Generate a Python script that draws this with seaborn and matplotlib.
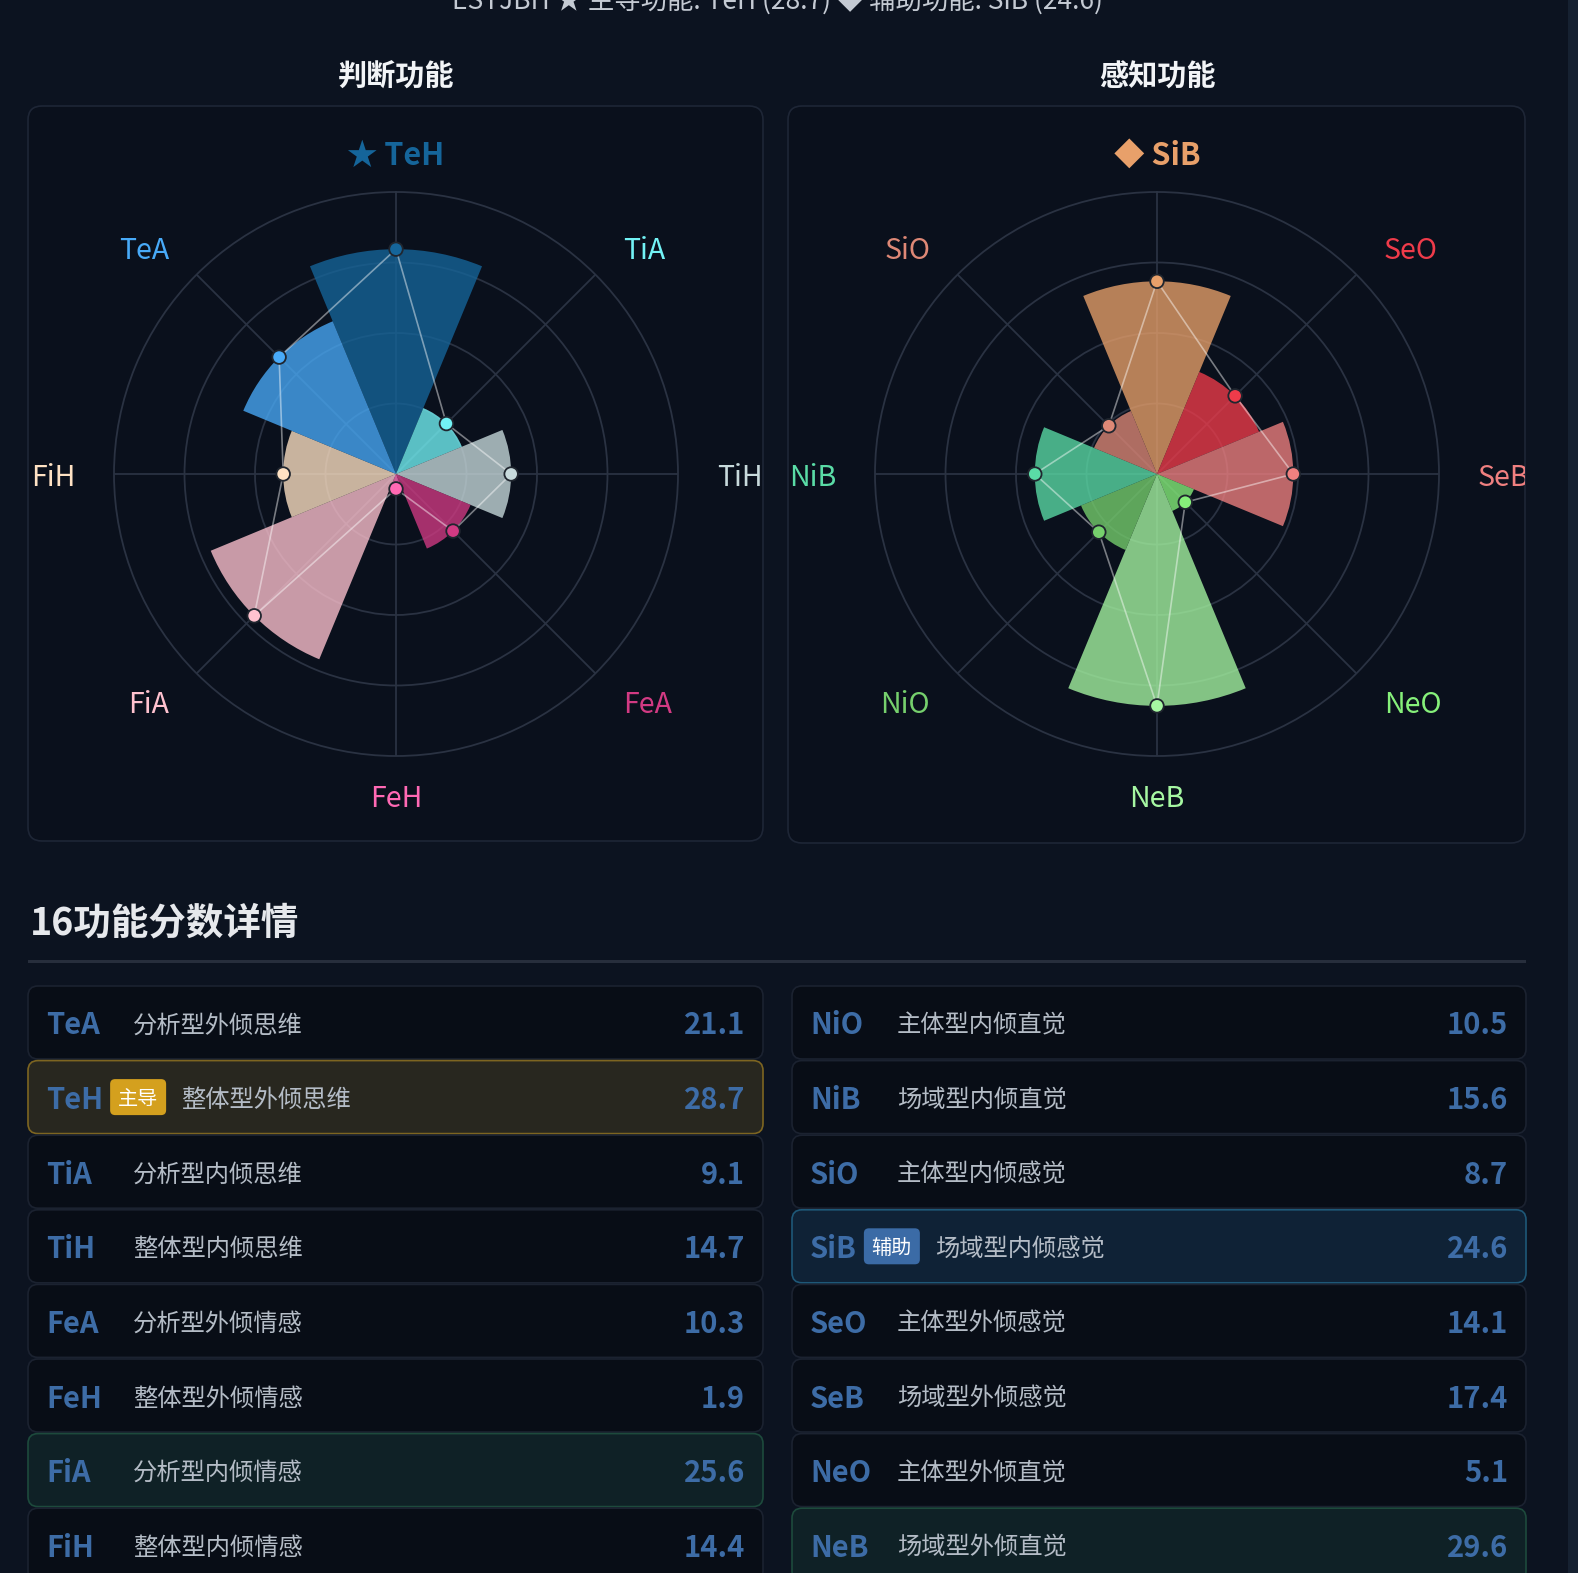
import numpy as np
import pandas as pd
import matplotlib
matplotlib.use("Agg")
import matplotlib.pyplot as plt
import matplotlib.transforms as mtransforms
import seaborn as sns
from matplotlib.patches import FancyBboxPatch, Rectangle

# ---------------- data ----------------
judge_codes = ["TeH", "TiA", "TiH", "FeA", "FeH", "FiA", "FiH", "TeA"]
judge_values = [28.7, 9.1, 14.7, 10.3, 1.9, 25.6, 14.4, 21.1]
judge_colors = ["#15659a", "#72f2f5", "#c8dadc", "#d23a83", "#ff69b4", "#ffc2cf", "#ffe2c4", "#48aaf8"]

perceive_codes = ["SiB", "SeO", "SeB", "NeO", "NeB", "NiO", "NiB", "SiO"]
perceive_values = [24.6, 14.1, 17.4, 5.1, 29.6, 10.5, 15.6, 8.7]
perceive_colors = ["#e8a06a", "#ef3b4a", "#f08080", "#86f07a", "#a6f7a2", "#76d06d", "#5adca6", "#de8876"]

panel_titles = ["判断功能", "感知功能"]
lead_symbols = ["★", "◆"]

page_title = "ESTJBH ★ 主导功能: TeH (28.7) ◆ 辅助功能: SiB (24.6)"
table_title = "16功能分数详情"

left_table_codes = ["TeA", "TeH", "TiA", "TiH", "FeA", "FeH", "FiA", "FiH"]
left_table_desc = ["分析型外倾思维", "整体型外倾思维", "分析型内倾思维", "整体型内倾思维",
                   "分析型外倾情感", "整体型外倾情感", "分析型内倾情感", "整体型内倾情感"]
right_table_codes = ["NiO", "NiB", "SiO", "SiB", "SeO", "SeB", "NeO", "NeB"]
right_table_desc = ["主体型内倾直觉", "场域型内倾直觉", "主体型内倾感觉", "场域型内倾感觉",
                    "主体型外倾感觉", "场域型外倾感觉", "主体型外倾直觉", "场域型外倾直觉"]
dominant_code = "TeH"
auxiliary_code = "SiB"
highlight_codes = ["FiA", "NeB"]
badge_text = {"TeH": "主导", "SiB": "辅助"}

scores = dict(zip(judge_codes + perceive_codes, judge_values + perceive_values))

# ---------------- style ----------------
W, H = 1578, 1573
PAGE = "#0c1320"
PANEL = "#0a101c"
PANEL_EDGE = "#1e2636"
GRID = "#2a3242"

sns.set_theme(style="dark")
plt.rcParams["font.family"] = ["Noto Sans CJK SC", "DejaVu Sans"]
plt.rcParams["axes.unicode_minus"] = False

fig = plt.figure(figsize=(W / 100, H / 100), dpi=100, facecolor=PAGE)
bg = fig.add_axes([0, 0, 1, 1], zorder=0)
bg.set_xlim(0, W)
bg.set_ylim(H, 0)
bg.axis("off")
bg.set_facecolor(PAGE)
renderer = fig.canvas.get_renderer()

# scrollbar strip at the right edge
bg.add_patch(Rectangle((1568, 0), 10, H, facecolor="#162131", edgecolor="none"))

# partial page title (cut at top)
bg.text(777, 10, page_title, ha="center", va="baseline", fontsize=19, color="#c4cad3")

# ---------------- polar panels ----------------
panels = [
    dict(box=(28, 106, 735, 735), center=(396, 474), codes=judge_codes, values=judge_values,
         colors=judge_colors, title=panel_titles[0], sym=lead_symbols[0]),
    dict(box=(788, 106, 737, 737), center=(1157, 474), codes=perceive_codes, values=perceive_values,
         colors=perceive_colors, title=panel_titles[1], sym=lead_symbols[1]),
]
R_PX = 282
RMAX = 36
label_shift = mtransforms.ScaledTranslation(0, -4 / 100, fig.dpi_scale_trans)

for p in panels:
    x0, y0, w, h = p["box"]
    bg.add_patch(FancyBboxPatch((x0, y0), w, h, boxstyle="round,pad=0,rounding_size=14",
                                facecolor=PANEL, edgecolor=PANEL_EDGE, linewidth=1.2))
    clip_rect = Rectangle((x0, y0), w, h, transform=bg.transData)
    cx, cy = p["center"]
    bg.text(cx, 77, p["title"], ha="center", va="center", fontsize=21, fontweight="bold", color="#f2f4f7")

    ax = fig.add_axes([(cx - R_PX) / W, 1 - (cy + R_PX) / H, 2 * R_PX / W, 2 * R_PX / H],
                      projection="polar", zorder=1)
    ax.set_facecolor("none")
    ax.set_theta_zero_location("N")
    ax.set_theta_direction(-1)
    ax.set_axisbelow(True)

    n = len(p["codes"])
    theta = np.deg2rad(np.arange(n) * 360 / n)
    vals = np.array(p["values"])
    ax.bar(theta, vals, width=2 * np.pi / n, color=p["colors"], alpha=0.78, linewidth=0, zorder=2)
    ax.plot(np.append(theta, theta[0]), np.append(vals, vals[0]), color="white", alpha=0.45,
            linewidth=1.2, zorder=3)
    df = pd.DataFrame({"theta": theta, "r": vals, "code": p["codes"]})
    sns.scatterplot(data=df, x="theta", y="r", hue="code", palette=dict(zip(p["codes"], p["colors"])),
                    s=95, edgecolor="#20262f", linewidth=1.3, legend=False, ax=ax, zorder=4)
    ax.set_xlabel("")
    ax.set_ylabel("")
    ax.set_ylim(0, RMAX)
    ax.set_yticks([9, 18, 27])
    ax.set_yticklabels([])
    ax.set_xticks(theta)
    ax.set_xticklabels([])
    ax.grid(True, color=GRID, linewidth=1.3)
    ax.spines["polar"].set_color(GRID)
    ax.spines["polar"].set_linewidth(1.3)

    r_lab = 321 / R_PX * RMAX
    for i, (code, col) in enumerate(zip(p["codes"], p["colors"])):
        if i == 0:
            ax.text(theta[0], 318 / R_PX * RMAX, f"{p['sym']} {code}", ha="center", va="center",
                    fontsize=22, fontweight="bold", color=col)
            continue
        s = np.sin(theta[i])
        ha = "left" if s > 0.1 else ("right" if s < -0.1 else "center")
        t = ax.text(theta[i], r_lab, code, ha=ha, va="center", fontsize=20.5, color=col,
                    clip_on=True, transform=ax.transData + label_shift)
        t.set_clip_path(clip_rect)

# ---------------- table ----------------
bg.text(30, 923, table_title, ha="left", va="center", fontsize=27, fontweight="bold", color="#e6e8ec")
bg.add_patch(Rectangle((28, 960), 1498, 3, facecolor="#272e3c", edgecolor="none"))

CODE_C = "#3d6ca6"
DESC_C = "#b4bcc6"
columns = [
    dict(x0=28, x1=763, codes=left_table_codes, desc=left_table_desc),
    dict(x0=792, x1=1526, codes=right_table_codes, desc=right_table_desc),
]
ROW_TOP, ROW_PITCH, ROW_H = 986, 74.6, 73
TXT_DY = 3
for col in columns:
    for i, (code, desc) in enumerate(zip(col["codes"], col["desc"])):
        top = ROW_TOP + i * ROW_PITCH
        mid = top + ROW_H / 2
        if code == dominant_code:
            fc, ec = "#28271f", "#7d6521"
        elif code == auxiliary_code:
            fc, ec = "#0f2236", "#1e5878"
        elif code in highlight_codes:
            fc, ec = "#0f2126", "#1d4a3c"
        else:
            fc, ec = "#080d16", "#1b2230"
        bg.add_patch(FancyBboxPatch((col["x0"], top), col["x1"] - col["x0"], ROW_H,
                                    boxstyle="round,pad=0,rounding_size=10",
                                    facecolor=fc, edgecolor=ec, linewidth=1.2))
        ct = bg.text(col["x0"] + 18, mid + TXT_DY, code, ha="left", va="center", fontsize=21,
                     fontweight="bold", color=CODE_C)
        desc_x = col["x0"] + 105
        if code in badge_text:
            bb = ct.get_window_extent(renderer)
            code_right = bg.transData.inverted().transform((bb.x1, bb.y0))[0]
            bx = code_right + 7
            bcol = "#d4a01e" if code == dominant_code else "#3b6ba6"
            bg.add_patch(FancyBboxPatch((bx, mid - 18), 56, 36, boxstyle="round,pad=0,rounding_size=5",
                                        facecolor=bcol, edgecolor="none"))
            bg.text(bx + 28, mid + 2, badge_text[code], ha="center", va="center", fontsize=14.5,
                    color="white")
            desc_x = bx + 56 + 15
        bg.text(desc_x, mid + TXT_DY, desc, ha="left", va="center", fontsize=17.5, color=DESC_C)
        bg.text(col["x1"] - 18, mid + TXT_DY, f"{scores[code]:.1f}", ha="right", va="center",
                fontsize=21, fontweight="bold", color=CODE_C)

fig.savefig("out.png", dpi=100, facecolor=PAGE)
